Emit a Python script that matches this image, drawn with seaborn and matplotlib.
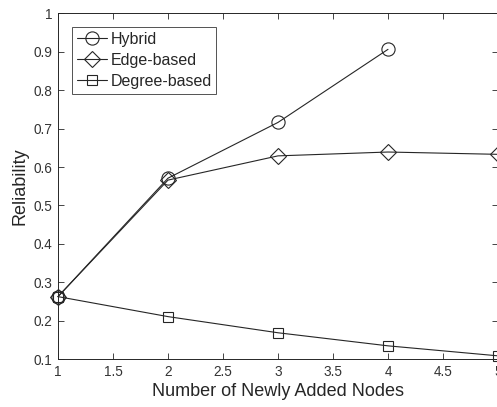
import matplotlib
matplotlib.use("Agg")
import matplotlib.pyplot as plt
import seaborn as sns
import pandas as pd

nodes = [1, 2, 3, 4, 5]
hybrid = [0.263, 0.571, 0.716, 0.906, None]
edge_based = [0.263, 0.566, 0.629, 0.639, 0.633]
degree_based = [0.263, 0.211, 0.169, 0.135, 0.109]

xticks = [1, 1.5, 2, 2.5, 3, 3.5, 4, 4.5, 5]
xticklabels = ["1", "1.5", "2", "2.5", "3", "3.5", "4", "4.5", "5"]
yticks = [0.1, 0.2, 0.3, 0.4, 0.5, 0.6, 0.7, 0.8, 0.9, 1.0]
yticklabels = ["0.1", "0.2", "0.3", "0.4", "0.5", "0.6", "0.7", "0.8", "0.9", "1"]

sns.set_style("white")
plt.rcParams["font.family"] = ["Liberation Sans", "DejaVu Sans"]

fig = plt.figure(figsize=(4.97, 4.07), dpi=100)
ax = fig.add_axes([58 / 497, 1 - 359.3 / 407, 440 / 497, (359.3 - 13.2) / 407])

lc = "#262626"
series = [
    ("Hybrid", hybrid, "o", 9.5),
    ("Edge-based", edge_based, "D", 8),
    ("Degree-based", degree_based, "s", 7.5),
]
for name, vals, mk, ms in series:
    xs = [x for x, v in zip(nodes, vals) if v is not None]
    ys = [v for v in vals if v is not None]
    df = pd.DataFrame({"x": xs, "y": ys})
    sns.lineplot(data=df, x="x", y="y", ax=ax, color=lc, lw=0.8,
                 marker=mk, markersize=ms, markerfacecolor="none",
                 markeredgecolor=lc, markeredgewidth=0.8, label=name,
                 clip_on=False)

ax.set_xlim(1, 5)
ax.set_ylim(0.1, 1.0)
ax.set_xticks(xticks)
ax.set_xticklabels(xticklabels)
ax.set_yticks(yticks)
ax.set_yticklabels(yticklabels)
ax.tick_params(direction="in", length=4, width=0.6, color="#262626",
               labelsize=9.8, labelcolor="#333333", top=True, right=True,
               bottom=True, left=True, pad=4)
for s in ax.spines.values():
    s.set_color("#262626")
    s.set_linewidth(0.7)
    s.set_visible(True)
ax.set_xlabel("Number of Newly Added Nodes", fontsize=13, color="#262626", labelpad=3)
ax.set_ylabel("Reliability", fontsize=13, color="#262626", labelpad=4)

leg = ax.legend(loc="upper left", bbox_to_anchor=(0.032, 0.96), fontsize=11.5,
                frameon=True, fancybox=False, edgecolor="#262626",
                handlelength=1.9, handletextpad=0.2, borderpad=0.3,
                labelspacing=0.38, borderaxespad=0)
leg.get_frame().set_linewidth(0.7)

fig.savefig("out.png", dpi=100)
